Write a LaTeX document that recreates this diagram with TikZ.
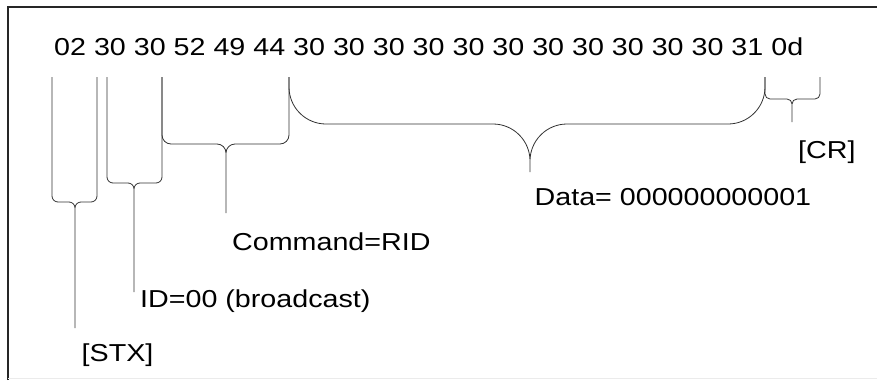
\documentclass[tikz,border=0pt]{standalone}
\usepackage{fontspec}
\setmainfont{Liberation Sans}[FakeStretch=1.17]
\usetikzlibrary{positioning}

\begin{document}
\begin{tikzpicture}[x=1pt, y=-1pt,
			lbl/.style={inner sep=0pt, anchor=base west, font=\fontsize{24.5}{29}\selectfont},
			hex/.style={lbl},
			curl/.style={draw=black!80, line width=0.8pt, rounded corners=#1},
			frame/.style={draw=black!85, line width=2pt}
			]
			
			\useasboundingbox (0,0) rectangle (877,380);
			
			% Frame
			\draw[frame] (8,380) -- (8,7) -- (877,7);
			\draw[black!8, line width=1pt] (8,378.5) -- (877,378.5);
			
			% Byte row
			\node[hex] (bytes) at (54,55) {02 30 30 52 49 44 30 30 30 30 30 30 30 30 30 30 30 31 0d};
			
			% Leg tops
			\coordinate (l1) at (52,77);
			\coordinate (r1) at (97,77);
			\coordinate (l2) at (107,77);
			\coordinate (r2) at (162,77);
			\coordinate (r3) at (289,77);
			\coordinate (r4) at (765,77);
			\coordinate (r5) at (820,77);
			
			% Knees and tips
			\coordinate (h1) at (75,202);  \coordinate (t1) at (75,328);
			\coordinate (h2) at (134,183); \coordinate (t2) at (134,292);
			\coordinate (h3) at (226,144); \coordinate (t3) at (226,213);
			\coordinate (h4) at (530,124); \coordinate (t4) at (530,172);
			\coordinate (h5) at (792,99);  \coordinate (t5) at (792,122);
			
			% Labels
			\node[lbl] (stx) at (81.5,361) {[STX]};
			\node[lbl] (id) at (140,307) {ID=00 (broadcast)};
			\node[lbl] (cmd) at (232,250) {Command=RID};
			\node[lbl] (data) at (534.5,205) {Data= 000000000001};
			\node[lbl] (cr) at (798,158) {[CR]};
			
			% Braces
			\draw[curl=6] (l1) |- (h1) -- (t1) (r1) |- (h1) -- (t1);
			\draw[curl=6] (l2) |- (h2) -- (t2) (r2) |- (h2) -- (t2);
			\draw[curl=9] (r2) |- (h3) -- (t3) (r3) |- (h3) -- (t3);
			\draw[curl=37] (r3) |- (h4) -- (t4) (r4) |- (h4) -- (t4);
			\draw[curl=5] (r4) |- (h5) -- (t5) (r5) |- (h5) -- (t5);
			
		\end{tikzpicture}
\end{document}
